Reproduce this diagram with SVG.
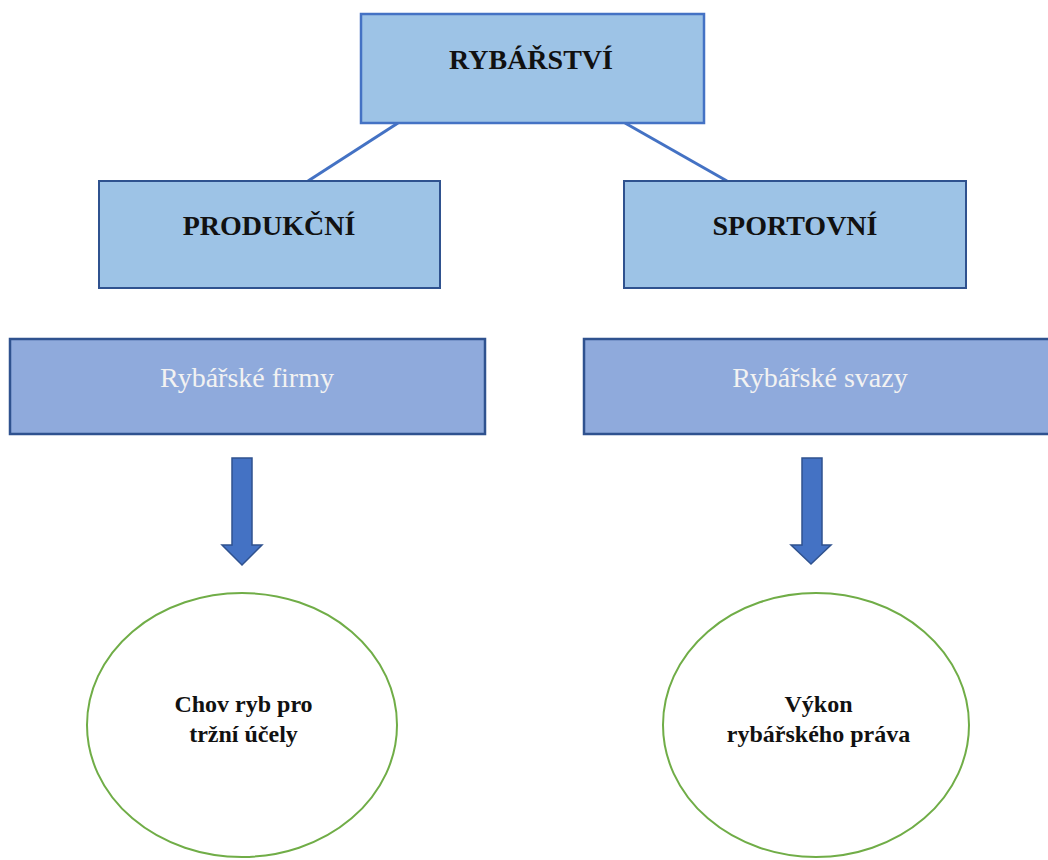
<svg xmlns="http://www.w3.org/2000/svg" width="1048" height="860" viewBox="0 0 1048 860">
<style>
.box1{fill:#9dc3e6;stroke:#4472c4;stroke-width:2.5}
.box2{fill:#9dc3e6;stroke:#2f528f;stroke-width:2}
.box3{fill:#8faadc;stroke:#2f528f;stroke-width:2.5}
.ell{fill:#ffffff;stroke:#70ad47;stroke-width:2}
.arr{fill:#4472c4;stroke:#2f528f;stroke-width:1.5}
.conn{stroke:#4472c4;stroke-width:3;fill:none}
text{font-family:'Liberation Serif','Times New Roman',serif}
.tb{font-weight:bold;fill:#111111;text-anchor:middle}
.th{font-size:28px}
.te{font-size:24px}
.tw{fill:#f2f2f2;text-anchor:middle;font-size:28px}
</style>
<rect width="1048" height="860" fill="#ffffff"/>
<g id="connectors">
<line class="conn" x1="398" y1="123" x2="308" y2="181"/>
<line class="conn" x1="625" y1="123" x2="727" y2="181"/>
<path class="arr" d="M232,458 H252 V545 H262 L242,565 L222,545 H232 Z"/>
<path class="arr" d="M802,458 H822 V545 H831 L811,564 L791,545 H802 Z"/>
</g>
<g id="rybarstvi">
<rect class="box1" x="361" y="14" width="343" height="109"/>
<text class="tb th" x="531" y="69">RYBÁŘSTVÍ</text>
</g>
<g id="produkcni">
<rect class="box2" x="99" y="181" width="341" height="107"/>
<text class="tb th" x="269" y="235">PRODUKČNÍ</text>
</g>
<g id="sportovni">
<rect class="box2" x="624" y="181" width="342" height="107"/>
<text class="tb th" x="795" y="235">SPORTOVNÍ</text>
</g>
<g id="firmy">
<rect class="box3" x="10" y="339" width="475" height="95"/>
<text class="tw" x="247" y="387">Rybářské firmy</text>
</g>
<g id="svazy">
<rect class="box3" x="584" y="339" width="480" height="95"/>
<text class="tw" x="820" y="387">Rybářské svazy</text>
</g>
<g id="chov">
<ellipse class="ell" cx="242" cy="725" rx="155" ry="132"/>
<text class="tb te" x="243.5" y="712">Chov ryb pro</text>
<text class="tb te" x="243.5" y="742">tržní účely</text>
</g>
<g id="vykon">
<ellipse class="ell" cx="816" cy="725" rx="153" ry="132"/>
<text class="tb te" x="818.5" y="712">Výkon</text>
<text class="tb te" x="818.5" y="742">rybářského práva</text>
</g>
</svg>
